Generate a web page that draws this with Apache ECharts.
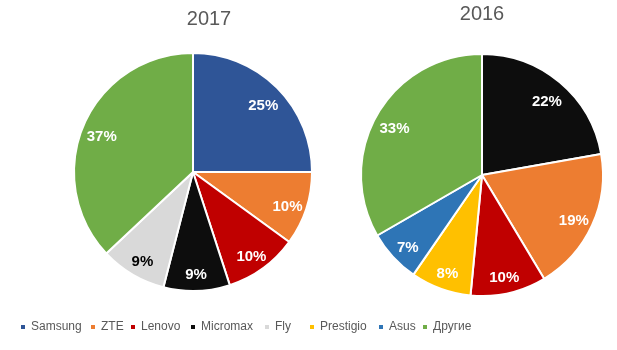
<!DOCTYPE html>
<html>
<head>
<meta charset="utf-8">
<script src="https://cdn.jsdelivr.net/npm/echarts@6/dist/echarts.min.js"></script>
<style>
  html, body { margin: 0; padding: 0; background: #fff; }
  #chart { width: 617px; height: 350px; }
</style>
</head>
<body>
<div id="chart"></div>
<script>
// 2017 data
var names2017 = ["Samsung", "ZTE", "Lenovo", "Micromax", "Fly", "Другие"];
var values2017 = [25, 10, 10, 9, 9, 37];
// 2016 data
var names2016 = ["Micromax", "ZTE", "Lenovo", "Prestigio", "Asus", "Другие"];
var values2016 = [22, 19, 10, 8, 7, 33];
// legend entries and where each one starts
var legendNames = ["Samsung", "ZTE", "Lenovo", "Micromax", "Fly", "Prestigio", "Asus", "Другие"];
var legendLeft = [19, 89, 129, 189, 263, 308, 377, 421];

var colors = {
  "Samsung": "#2f5597",
  "ZTE": "#ed7d31",
  "Lenovo": "#c00000",
  "Micromax": "#0d0d0d",
  "Fly": "#d9d9d9",
  "Prestigio": "#ffc000",
  "Asus": "#2e75b6",
  "Другие": "#70ad47"
};
var font = "'Liberation Sans', Arial, sans-serif";

function pieData(names, values) {
  return names.map(function (n, i) {
    return { name: n, value: values[i], itemStyle: { color: colors[n] } };
  });
}
// transparent ring on top, only to place the percent labels further out
function labelData(names, values) {
  return names.map(function (n, i) {
    return {
      name: n,
      value: values[i],
      itemStyle: { color: "rgba(0,0,0,0)" },
      label: { color: n == "Fly" ? "#000" : "#fff" }
    };
  });
}

function pieSeries(center, radius, names, values) {
  return [
    {
      type: "pie",
      center: center,
      radius: radius,
      startAngle: 90,
      clockwise: true,
      silent: true,
      label: { show: false },
      labelLine: { show: false },
      itemStyle: { borderColor: "#fff", borderWidth: 2 },
      data: pieData(names, values)
    },
    {
      type: "pie",
      center: center,
      radius: [radius * 0.62, radius],
      startAngle: 90,
      clockwise: true,
      silent: true,
      legendHoverLink: false,
      label: {
        show: true,
        position: "inside",
        formatter: "{c}%",
        fontFamily: font,
        fontWeight: "bold",
        fontSize: 15,
        offset: [0, 4]
      },
      labelLine: { show: false },
      data: labelData(names, values)
    }
  ];
}

var chart = echarts.init(document.getElementById("chart"));
var legends = legendNames.map(function (n, i) {
  return {
    left: legendLeft[i],
    top: 321,
    padding: 0,
    icon: "rect",
    itemWidth: 6,
    itemHeight: 6,
    selectedMode: false,
    textStyle: { color: "#595959", fontSize: 12, fontFamily: font },
    data: [n]
  };
});
chart.setOption({
  animation: false,
  title: [
    {
      text: "2017",
      left: 209,
      top: 9,
      padding: 0,
      textAlign: "center",
      textStyle: { color: "#595959", fontSize: 20, fontWeight: "normal", fontFamily: font }
    },
    {
      text: "2016",
      left: 482,
      top: 4,
      padding: 0,
      textAlign: "center",
      textStyle: { color: "#595959", fontSize: 20, fontWeight: "normal", fontFamily: font }
    }
  ],
  legend: legends,
  series: pieSeries([193, 172], 119, names2017, values2017)
    .concat(pieSeries([482, 175], 121, names2016, values2016))
});
</script>
</body>
</html>
